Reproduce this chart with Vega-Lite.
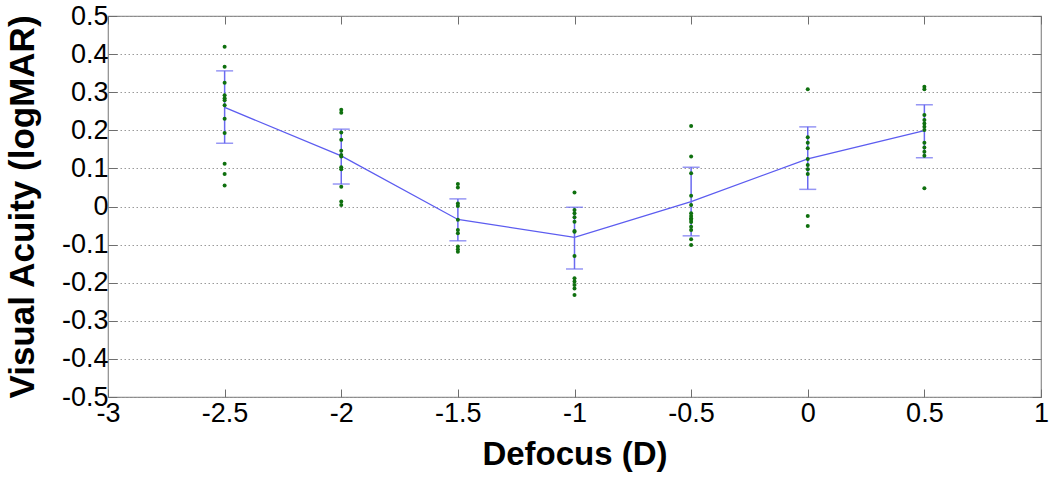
{
  "$schema": "https://vega.github.io/schema/vega-lite/v6.json",
  "width": 933,
  "height": 381,
  "autosize": "none",
  "padding": {"left": 108, "top": 16, "right": 9, "bottom": 84},
  "background": "white",
  "config": {
    "view": {"stroke": "#8c8c8c", "strokeWidth": 1.2},
    "font": "Liberation Sans",
    "axis": {"labelFont": "Liberation Sans", "titleFont": "Liberation Sans"}
  },
  "datasets": {
    "pts": [
      {"D": -2.5, "va": 0.419}, {"D": -2.5, "va": 0.367}, {"D": -2.5, "va": 0.325}, {"D": -2.5, "va": 0.292},
      {"D": -2.5, "va": 0.284}, {"D": -2.5, "va": 0.279}, {"D": -2.5, "va": 0.266}, {"D": -2.5, "va": 0.230},
      {"D": -2.5, "va": 0.193}, {"D": -2.5, "va": 0.112}, {"D": -2.5, "va": 0.085}, {"D": -2.5, "va": 0.055},
      {"D": -2, "va": 0.254}, {"D": -2, "va": 0.246}, {"D": -2, "va": 0.194}, {"D": -2, "va": 0.175},
      {"D": -2, "va": 0.146}, {"D": -2, "va": 0.135}, {"D": -2, "va": 0.131}, {"D": -2, "va": 0.103},
      {"D": -2, "va": 0.098}, {"D": -2, "va": 0.052}, {"D": -2, "va": 0.013}, {"D": -2, "va": 0.004},
      {"D": -1.5, "va": 0.059}, {"D": -1.5, "va": 0.050}, {"D": -1.5, "va": 0.008}, {"D": -1.5, "va": 0.001},
      {"D": -1.5, "va": -0.035}, {"D": -1.5, "va": -0.062}, {"D": -1.5, "va": -0.070}, {"D": -1.5, "va": -0.105},
      {"D": -1.5, "va": -0.112}, {"D": -1.5, "va": -0.119},
      {"D": -1, "va": 0.037}, {"D": -1, "va": -0.009}, {"D": -1, "va": -0.018}, {"D": -1, "va": -0.028},
      {"D": -1, "va": -0.040}, {"D": -1, "va": -0.064}, {"D": -1, "va": -0.066}, {"D": -1, "va": -0.130},
      {"D": -1, "va": -0.188}, {"D": -1, "va": -0.197}, {"D": -1, "va": -0.206}, {"D": -1, "va": -0.215},
      {"D": -1, "va": -0.232},
      {"D": -0.5, "va": 0.211}, {"D": -0.5, "va": 0.131}, {"D": -0.5, "va": 0.087}, {"D": -0.5, "va": 0.028},
      {"D": -0.5, "va": 0.004}, {"D": -0.5, "va": -0.018}, {"D": -0.5, "va": -0.025}, {"D": -0.5, "va": -0.031},
      {"D": -0.5, "va": -0.035}, {"D": -0.5, "va": -0.041}, {"D": -0.5, "va": -0.053}, {"D": -0.5, "va": -0.062},
      {"D": -0.5, "va": -0.086}, {"D": -0.5, "va": -0.101},
      {"D": 0, "va": 0.308}, {"D": 0, "va": 0.182}, {"D": 0, "va": 0.167}, {"D": 0, "va": 0.153},
      {"D": 0, "va": 0.125}, {"D": 0, "va": 0.109}, {"D": 0, "va": 0.098}, {"D": 0, "va": 0.085},
      {"D": 0, "va": -0.025}, {"D": 0, "va": -0.051},
      {"D": 0.5, "va": 0.314}, {"D": 0.5, "va": 0.308}, {"D": 0.5, "va": 0.240}, {"D": 0.5, "va": 0.227},
      {"D": 0.5, "va": 0.218}, {"D": 0.5, "va": 0.209}, {"D": 0.5, "va": 0.201}, {"D": 0.5, "va": 0.167},
      {"D": 0.5, "va": 0.155}, {"D": 0.5, "va": 0.144}, {"D": 0.5, "va": 0.133}, {"D": 0.5, "va": 0.048}
    ],
    "summary": [
      {"D": -2.5, "mean": 0.260, "lo": 0.166, "hi": 0.356},
      {"D": -2, "mean": 0.133, "lo": 0.059, "hi": 0.203},
      {"D": -1.5, "mean": -0.034, "lo": -0.090, "hi": 0.020},
      {"D": -1, "mean": -0.081, "lo": -0.164, "hi": -0.002},
      {"D": -0.5, "mean": 0.013, "lo": -0.077, "hi": 0.103},
      {"D": 0, "mean": 0.125, "lo": 0.045, "hi": 0.209},
      {"D": 0.5, "mean": 0.199, "lo": 0.128, "hi": 0.267}
    ]
  },
  "resolve": {"axis": {"x": "independent", "y": "independent"}},
  "layer": [
    {
      "data": {"name": "summary"},
      "mark": {"type": "line", "color": "#5c5cf0", "strokeWidth": 1.3},
      "encoding": {
        "x": {
          "field": "D", "type": "quantitative",
          "scale": {"domain": [-3, 1], "nice": false, "zero": false},
          "axis": {
            "values": [-3, -2.5, -2, -1.5, -1, -0.5, 0, 0.5, 1],
            "labelExpr": "toString(datum.value)",
            "title": "Defocus (D)",
            "titleFontSize": 33, "titleFontWeight": "bold", "titleColor": "#000",
            "titlePadding": 12,
            "labelFontSize": 27, "labelColor": "#000", "labelPadding": 11,
            "tickSize": -8, "tickColor": "#6e6e6e", "domain": false,
            "grid": false, "labelFlush": false, "labelOverlap": false
          }
        },
        "y": {
          "field": "mean", "type": "quantitative",
          "scale": {"domain": [-0.5, 0.5], "nice": false, "zero": false},
          "axis": {
            "values": [-0.5, -0.4, -0.3, -0.2, -0.1, 0, 0.1, 0.2, 0.3, 0.4, 0.5],
            "labelExpr": "toString(datum.value)",
            "title": "Visual Acuity (logMAR)",
            "titleFontSize": 35, "titleFontWeight": "bold", "titleColor": "#000",
            "titlePadding": 21,
            "labelFontSize": 27, "labelColor": "#000", "labelPadding": 9,
            "tickSize": -9, "tickColor": "#6e6e6e", "domain": false,
            "grid": true, "gridColor": "#9a9a9a", "gridDash": [1.5, 2.5], "gridWidth": 1,
            "labelFlush": false, "labelOverlap": false
          }
        }
      }
    },
    {
      "data": {"name": "summary"},
      "mark": {"type": "rule", "color": "#6a6af0", "strokeWidth": 1.5},
      "encoding": {
        "x": {"field": "D", "type": "quantitative", "scale": {"domain": [-3, 1], "nice": false}, "axis": {"orient": "top", "values": [-3, -2.5, -2, -1.5, -1, -0.5, 0, 0.5, 1], "labels": false, "title": null, "domain": false, "tickSize": -8, "tickColor": "#6e6e6e", "grid": false}},
        "y": {"field": "lo", "type": "quantitative", "scale": {"domain": [-0.5, 0.5], "nice": false}, "axis": {"orient": "right", "values": [-0.5, -0.4, -0.3, -0.2, -0.1, 0, 0.1, 0.2, 0.3, 0.4, 0.5], "labels": false, "title": null, "domain": false, "tickSize": -9, "tickColor": "#6e6e6e", "grid": false}},
        "y2": {"field": "hi"}
      }
    },
    {
      "data": {"name": "summary"},
      "mark": {"type": "tick", "color": "#6a6af0", "size": 17, "thickness": 1.5, "orient": "horizontal"},
      "encoding": {
        "x": {"field": "D", "type": "quantitative", "scale": {"domain": [-3, 1], "nice": false}, "axis": null},
        "y": {"field": "lo", "type": "quantitative", "scale": {"domain": [-0.5, 0.5], "nice": false}, "axis": null}
      }
    },
    {
      "data": {"name": "summary"},
      "mark": {"type": "tick", "color": "#6a6af0", "size": 17, "thickness": 1.5, "orient": "horizontal"},
      "encoding": {
        "x": {"field": "D", "type": "quantitative", "scale": {"domain": [-3, 1], "nice": false}, "axis": null},
        "y": {"field": "hi", "type": "quantitative", "scale": {"domain": [-0.5, 0.5], "nice": false}, "axis": null}
      }
    },
    {
      "data": {"name": "pts"},
      "mark": {"type": "circle", "color": "#0f700f", "size": 16, "opacity": 1},
      "encoding": {
        "x": {"field": "D", "type": "quantitative", "scale": {"domain": [-3, 1], "nice": false}, "axis": null},
        "y": {"field": "va", "type": "quantitative", "scale": {"domain": [-0.5, 0.5], "nice": false}, "axis": null}
      }
    }
  ]
}
